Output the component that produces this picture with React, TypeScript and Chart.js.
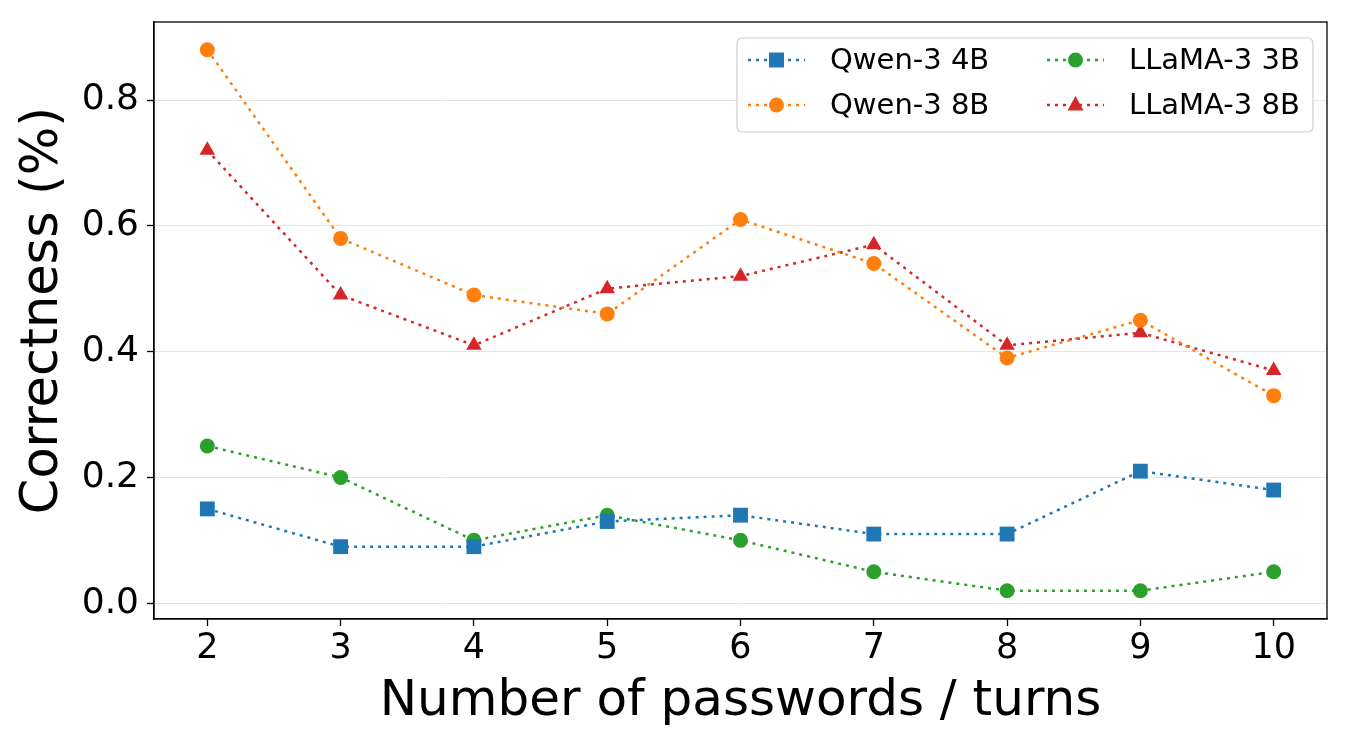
import React, { useEffect, useRef } from "react";
import { Chart, registerables } from "chart.js";

Chart.register(...registerables);

const passwords = [2, 3, 4, 5, 6, 7, 8, 9, 10];
const qwen4b = [0.15, 0.09, 0.09, 0.13, 0.14, 0.11, 0.11, 0.21, 0.18];
const qwen8b = [0.88, 0.58, 0.49, 0.46, 0.61, 0.54, 0.39, 0.45, 0.33];
const llama3b = [0.25, 0.2, 0.1, 0.14, 0.1, 0.05, 0.02, 0.02, 0.05];
const llama8b = [0.72, 0.49, 0.41, 0.5, 0.52, 0.57, 0.41, 0.43, 0.37];
const yTicks = [0, 0.2, 0.4, 0.6, 0.8];
const yTitle = "Correctness (%)";
const xTitle = "Number of passwords / turns";

const FONT = "'DejaVu Sans', sans-serif";
const DASH = [3, 5];

const seriesDefs = [
  { label: "Qwen-3 4B", data: qwen4b, color: "#1f77b4", style: "rect", radius: 10.5 },
  { label: "Qwen-3 8B", data: qwen8b, color: "#ff7f0e", style: "circle", radius: 7.5 },
  { label: "LLaMA-3 3B", data: llama3b, color: "#2ca02c", style: "circle", radius: 7.5 },
  { label: "LLaMA-3 8B", data: llama8b, color: "#d62728", style: "triangle", radius: 9 },
];

const framePlugin = {
  id: "frame",
  afterDraw(chart: any) {
    const { ctx, chartArea } = chart;
    ctx.save();
    ctx.strokeStyle = "#000";
    ctx.lineWidth = 1.3;
    ctx.strokeRect(chartArea.left, chartArea.top, chartArea.right - chartArea.left, chartArea.bottom - chartArea.top);
    // y axis title
    ctx.translate(44, (chartArea.top + chartArea.bottom) / 2 - 10);
    ctx.rotate(-Math.PI / 2);
    ctx.fillStyle = "#000";
    ctx.font = `51px ${FONT}`;
    ctx.textAlign = "center";
    ctx.textBaseline = "middle";
    ctx.fillText(yTitle, 0, 0);
    ctx.restore();
  },
};

const legendPlugin = {
  id: "customLegend",
  afterDraw(chart: any) {
    const { ctx, chartArea } = chart;
    const boxRight = chartArea.right - 14;
    const boxTop = chartArea.top + 16;
    const boxW = 576;
    const boxH = 94;
    const boxLeft = boxRight - boxW;
    ctx.save();
    ctx.fillStyle = "rgba(255,255,255,0.85)";
    ctx.strokeStyle = "#d0d0d0";
    ctx.lineWidth = 1.2;
    ctx.beginPath();
    (ctx as any).roundRect(boxLeft, boxTop, boxW, boxH, 5);
    ctx.fill();
    ctx.stroke();
    const order = [0, 2, 1, 3];
    ctx.font = `29px ${FONT}`;
    ctx.textBaseline = "middle";
    order.forEach((idx, i) => {
      const s = seriesDefs[idx];
      const col = i % 2;
      const row = Math.floor(i / 2);
      const lx = boxLeft + 11 + col * 299;
      const ly = boxTop + 22 + row * 45;
      ctx.strokeStyle = s.color;
      ctx.lineWidth = 2.5;
      ctx.setLineDash(DASH);
      ctx.beginPath();
      ctx.moveTo(lx, ly);
      ctx.lineTo(lx + 57, ly);
      ctx.stroke();
      ctx.setLineDash([]);
      ctx.fillStyle = s.color;
      const cx = lx + 28.5;
      if (s.style === "rect") {
        ctx.fillRect(cx - 7.5, ly - 7.5, 15, 15);
      } else if (s.style === "circle") {
        ctx.beginPath();
        ctx.arc(cx, ly, 7.5, 0, Math.PI * 2);
        ctx.fill();
      } else {
        ctx.beginPath();
        ctx.moveTo(cx, ly - 9);
        ctx.lineTo(cx + 8, ly + 5.5);
        ctx.lineTo(cx - 8, ly + 5.5);
        ctx.closePath();
        ctx.fill();
      }
      ctx.fillStyle = "#000";
      ctx.fillText(s.label, lx + 82, ly + 1);
    });
    ctx.restore();
  },
};

export default function App() {
  const ref = useRef<HTMLCanvasElement | null>(null);
  useEffect(() => {
    if (!ref.current) return;
    const chart = new Chart(ref.current, {
      type: "line",
      data: {
        datasets: seriesDefs.map((s) => ({
          label: s.label,
          data: passwords.map((x, i) => ({ x, y: s.data[i] })),
          borderColor: s.color,
          backgroundColor: s.color,
          borderWidth: 2.5,
          borderDash: DASH,
          pointStyle: s.style as any,
          pointRadius: s.radius,
          pointBorderWidth: 0,
          pointBackgroundColor: s.color,
          tension: 0,
          fill: false,
        })),
      },
      options: {
        responsive: false,
        animation: false,
        layout: { padding: { top: 22, right: 23, left: 0, bottom: 0 } },
        plugins: { legend: { display: false }, tooltip: { enabled: false } },
        scales: {
          x: {
            type: "linear",
            min: 1.6,
            max: 10.4,
            afterBuildTicks: (axis: any) => {
              axis.ticks = passwords.map((v) => ({ value: v }));
            },
            afterFit: (axis: any) => {
              axis.height = 131;
              axis.paddingLeft = 0;
              axis.paddingRight = 0;
            },
            ticks: {
              color: "#000",
              font: { family: FONT, size: 35 },
              padding: 2,
              maxRotation: 0,
              autoSkip: false,
              callback: (v: any) => String(v),
            },
            grid: { drawOnChartArea: false, tickColor: "#000", tickLength: 7, tickWidth: 1.3 },
            border: { color: "#000", width: 1.3 },
            title: {
              display: true,
              text: xTitle,
              color: "#000",
              font: { family: FONT, size: 50 },
              padding: { top: 0, bottom: 18 },
            },
          },
          y: {
            type: "linear",
            min: -0.025,
            max: 0.924,
            afterBuildTicks: (axis: any) => {
              axis.ticks = yTicks.map((v) => ({ value: v }));
            },
            afterFit: (axis: any) => {
              axis.width = 154;
              axis.paddingTop = 0;
              axis.paddingBottom = 0;
            },
            ticks: {
              color: "#000",
              font: { family: FONT, size: 36 },
              padding: 8,
              autoSkip: false,
              callback: (v: any) => Number(v).toFixed(1),
            },
            grid: { color: "#e5e5e5", lineWidth: 1, tickColor: "#000", tickLength: 7, tickWidth: 1.3 },
            border: { color: "#000", width: 1.3 },
            title: { display: false },
          },
        },
      },
      plugins: [framePlugin, legendPlugin],
    });
    return () => chart.destroy();
  }, []);
  return (
    <div style={{ position: "fixed", left: 0, top: 0, width: 1350, height: 750, background: "#fff" }}>
      <canvas ref={ref} width={1350} height={750} style={{ width: 1350, height: 750 }} />
    </div>
  );
}
